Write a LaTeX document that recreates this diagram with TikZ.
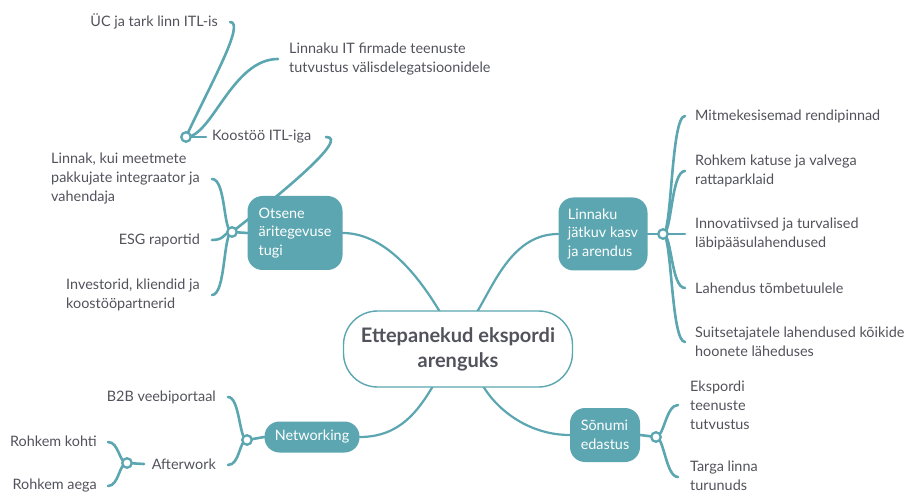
\documentclass[tikz,border=0pt]{standalone}
\usepackage{fontspec}
\setmainfont{Lato}
\usetikzlibrary{backgrounds}
\definecolor{tealc}{HTML}{5BA6B0}
\definecolor{txtc}{HTML}{52525C}
\begin{document}
\begin{tikzpicture}[x=1pt,y=-1pt,
  lbl/.style={text=txtc, font=\fontsize{14.4}{19}\selectfont, inner sep=0pt},
  topic/.style={fill=tealc, text=white, font=\fontsize{14.4}{18.5}\selectfont, align=left, inner sep=0pt, rounded corners=15pt},
  centre/.style={draw=tealc, line width=1.4pt, fill=white, text=txtc, font=\fontsize{20}{25}\selectfont\bfseries, align=center, inner sep=0pt, rounded corners=34pt, minimum width=229pt, minimum height=76pt},
  jn/.style={circle, draw=tealc, fill=white, line width=2.3pt, minimum size=9.5pt, inner sep=0pt},
  br/.style={draw=tealc, line width=2.6pt, line cap=round},
  mainbr/.style={draw=tealc, line width=2.2pt, line cap=round}]
\useasboundingbox (0,0) rectangle (907,494);

% central and topic nodes
\node[centre] (c) at (458,349) {Ettepanekud ekspordi\\arenguks};
\node[topic, minimum width=95pt, minimum height=74pt] (ot) at (295,233) {Otsene\\äritegevuse\\tugi};
\node[topic, minimum width=89pt, minimum height=73pt] (li) at (603,234) {Linnaku\\jätkuv kasv\\ja arendus};
\node[topic, minimum width=95pt, minimum height=31pt, rounded corners=15pt] (nw) at (312,437) {Networking};
\node[topic, minimum width=70pt, minimum height=54pt] (so) at (605,435) {Sõnumi\\edastus};

% junctions
\node[jn] (jot) at (232,232) {};
\node[jn] (jk) at (186,137) {};
\node[jn] (jli) at (663,234) {};
\node[jn] (jnw) at (247,440) {};
\node[jn] (jaw) at (127,463) {};
\node[jn] (jso) at (656,437) {};

% labels
\node[lbl, anchor=east] (uc) at (218,21) {ÜC ja tark linn ITL-is};
\node[lbl, anchor=west, align=left] (lit) at (289,59) {Linnaku IT firmade teenuste\\tutvustus välisdelegatsioonidele};
\node[lbl, anchor=west] (koo) at (212,137) {Koostöö ITL-iga};
\node[lbl, anchor=east, align=left] (lk) at (200,179) {Linnak, kui meetmete\\pakkujate integraator ja\\vahendaja};
\node[lbl, anchor=east] (esg) at (200,240) {ESG raportid};
\node[lbl, anchor=east, align=left] (inv) at (200,295) {Investorid, kliendid ja\\koostööpartnerid};
\node[lbl, anchor=west] (mit) at (695,116) {Mitmekesisemad rendipinnad};
\node[lbl, anchor=west, align=left] (roh) at (695,171) {Rohkem katuse ja valvega\\rattaparklaid};
\node[lbl, anchor=west, align=left] (inn) at (695,234) {Innovatiivsed ja turvalised\\läbipääsulahendused};
\node[lbl, anchor=west] (lah) at (695,288) {Lahendus tõmbetuulele};
\node[lbl, anchor=west, align=left] (sui) at (695,342) {Suitsetajatele lahendused kõikide\\hoonete läheduses};
\node[lbl, anchor=west, align=left] (eks) at (690,405) {Ekspordi\\teenuste\\tutvustus};
\node[lbl, anchor=west, align=left] (tar) at (690,476) {Targa linna\\turunuds};
\node[lbl, anchor=east] (b2b) at (216,397) {B2B veebiportaal};
\node[lbl, anchor=east] (aft) at (216,464) {Afterwork};
\node[lbl, anchor=east] (rk) at (97,441) {Rohkem kohti};
\node[lbl, anchor=east] (ra) at (97,486) {Rohkem aega};

% connector end points
\coordinate (euc) at (230,22);
\coordinate (elit) at (278,59);
\coordinate (ekoo) at (326,137);
\coordinate (ekooL) at (206,137);
\coordinate (elk) at (212,179);
\coordinate (eesg) at (212,240);
\coordinate (einv) at (212,295);
\coordinate (emit) at (685,116);
\coordinate (eroh) at (685,171);
\coordinate (einn) at (685,234);
\coordinate (elah) at (685,288);
\coordinate (esui) at (685,342);
\coordinate (eeks) at (678,405);
\coordinate (etar) at (678,477);
\coordinate (eb2b) at (228,397);
\coordinate (eaft) at (228,465);
\coordinate (eaftR) at (144,464);
\coordinate (erk) at (108,442);
\coordinate (era) at (108,486);
\coordinate (cot) at (440,312);
\coordinate (cli) at (477,312);
\coordinate (cnw) at (433,386);
\coordinate (cso) at (483,386);

\begin{scope}[on background layer]
% main branches
\draw[mainbr] (ot.east) .. controls +(45,0) and +(-18,-30) .. (cot);
\draw[mainbr] (li.west) .. controls +(-45,0) and +(18,-30) .. (cli);
\draw[mainbr] (nw.east) .. controls +(40,0) and +(-15,25) .. (cnw);
\draw[mainbr] (so.west) .. controls +(-40,0) and +(15,25) .. (cso);
% parent to junction
\draw[br] (ot.west) -- (jot.center);
\draw[br] (li.east) -- (jli.center);
\draw[br] (nw.west) -- (jnw.center);
\draw[br] (so.east) -- (jso.center);
\draw[br] (jk.center) -- (ekooL);
\draw[br] (jaw.center) -- (eaftR);
% Otsene children
\draw[br] (jot.center) .. controls +(-9,0) and +(14,0) .. (elk);
\draw[br] (jot.center) .. controls +(-9,0) and +(14,0) .. (eesg);
\draw[br] (jot.center) .. controls +(-9,0) and +(14,0) .. (einv);
\draw[br] (jot.center) .. controls +(45,-35) and +(25,0) .. (ekoo);
% Koostoo children
\draw[br] (jk.center) .. controls (210,85) and (246,22) .. (euc);
\draw[br] (jk.center) .. controls (212,137) and (232,59) .. (elit);
% Linnaku children
\draw[br] (jli.center) .. controls +(9,0) and +(-14,0) .. (emit);
\draw[br] (jli.center) .. controls +(9,0) and +(-14,0) .. (eroh);
\draw[br] (jli.center) -- (einn);
\draw[br] (jli.center) .. controls +(9,0) and +(-14,0) .. (elah);
\draw[br] (jli.center) .. controls +(9,0) and +(-14,0) .. (esui);
% Sonumi children
\draw[br] (jso.center) .. controls +(8,0) and +(-12,0) .. (eeks);
\draw[br] (jso.center) .. controls +(8,0) and +(-12,0) .. (etar);
% Networking children
\draw[br] (jnw.center) .. controls +(-8,0) and +(12,0) .. (eb2b);
\draw[br] (jnw.center) .. controls +(-8,0) and +(12,0) .. (eaft);
% Afterwork children
\draw[br] (jaw.center) .. controls +(-8,0) and +(11,0) .. (erk);
\draw[br] (jaw.center) .. controls +(-8,0) and +(11,0) .. (era);
\end{scope}
\end{tikzpicture}
\end{document}
